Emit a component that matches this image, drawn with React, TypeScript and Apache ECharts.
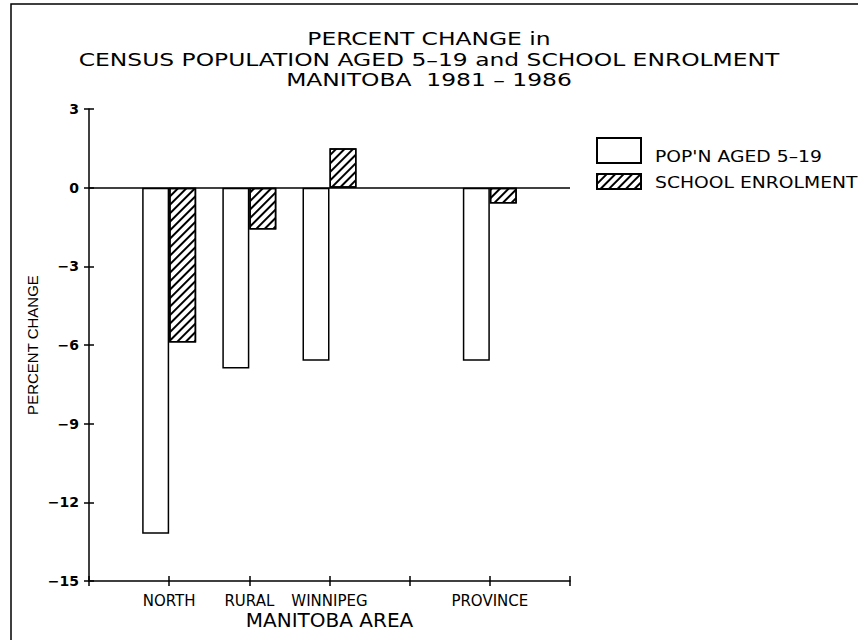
import React, { useEffect, useRef } from "react";
import * as echarts from "echarts";

const categories = ["", "NORTH", "RURAL", "WINNIPEG", "", "PROVINCE", ""];
const popAged519 = [null, -13.2, -6.9, -6.6, null, -6.6, null];
const schoolEnrolment = [null, -5.9, -1.6, 1.5, null, -0.6, null];
const yMin = -15;
const yMax = 3;
const yInterval = 3;
const seriesNames = ["POP'N AGED 5\u201319", "SCHOOL ENROLMENT"];
const titleLines = [
  "PERCENT CHANGE in",
  "CENSUS POPULATION AGED 5\u201319 and SCHOOL ENROLMENT",
  "MANITOBA  1981 \u2013 1986",
];
const xAxisName = "MANITOBA AREA";
const yAxisName = "PERCENT CHANGE";

const FONT = '"DejaVu Sans", sans-serif';

export default function App() {
  const ref = useRef<HTMLDivElement>(null);
  useEffect(() => {
    if (!ref.current) return;
    const chart = echarts.init(ref.current, null, { renderer: "svg" });
    const hatch = {
      symbol: "rect",
      symbolSize: 1,
      color: "#000",
      backgroundColor: "#fff",
      dashArrayX: [1, 0],
      dashArrayY: [1.5, 3.5],
      rotation: -Math.PI / 4,
    };
    const yLabel = (v: number) => String(v).replace("-", "\u2212");
    const legendTextY = [157, 183];
    chart.setOption({
      animation: false,
      backgroundColor: "#fff",
      grid: { left: 89, right: 288, top: 109, bottom: 59, containLabel: false },
      legend: [
        {
          data: [seriesNames[0]],
          left: 596,
          top: 137,
          padding: 0,
          itemWidth: 44,
          itemHeight: 25,
          icon: "rect",
          selectedMode: false,
          formatter: () => "",
        },
        {
          data: [seriesNames[1]],
          left: 596,
          top: 173,
          padding: 0,
          itemWidth: 44,
          itemHeight: 15,
          icon: "rect",
          selectedMode: false,
          formatter: () => "",
        },
      ],
      xAxis: [
        {
          type: "category",
          data: categories,
          boundaryGap: false,
          axisLine: { onZero: false, lineStyle: { color: "#000", width: 1.5 } },
          axisTick: { show: true, interval: 0, length: 5, lineStyle: { color: "#000", width: 1.5 } },
          axisLabel: { interval: 0, margin: 12, fontFamily: FONT, fontSize: 15, color: "#000" },
          splitLine: { show: false },
          name: xAxisName,
          nameLocation: "middle",
          nameGap: 29,
          nameMoveOverlap: false,
          nameTextStyle: { fontFamily: FONT, fontSize: 20, color: "#000" },
        },
        {
          type: "category",
          data: categories,
          boundaryGap: false,
          position: "bottom",
          axisLine: { show: false, onZero: false },
          axisTick: { show: true, inside: true, interval: 0, length: 5, lineStyle: { color: "#000", width: 1.5 } },
          axisLabel: { show: false },
          splitLine: { show: false },
        },
      ],
      yAxis: [
        {
          type: "value",
          position: "left",
          min: yMin,
          max: yMax,
          interval: yInterval,
          axisLine: { show: true, lineStyle: { color: "#000", width: 1.5 } },
          axisTick: { show: true, length: 5, lineStyle: { color: "#000", width: 1.5 } },
          axisLabel: { margin: 10, fontFamily: FONT, fontSize: 14, fontWeight: "bold", color: "#000", formatter: yLabel },
          splitLine: { show: false },
          name: yAxisName,
          nameLocation: "middle",
          nameGap: 49,
          nameMoveOverlap: false,
          nameRotate: 90,
          nameTextStyle: { fontFamily: '"Liberation Sans Narrow", "Liberation Sans", sans-serif', fontSize: 15, color: "#000" },
        },
        {
          type: "value",
          position: "left",
          min: yMin,
          max: yMax,
          interval: yInterval,
          axisLine: { show: false },
          axisTick: { show: true, inside: true, length: 5, lineStyle: { color: "#000", width: 1.5 } },
          axisLabel: { show: false },
          splitLine: { show: false },
        },
      ],
      series: [
        {
          name: seriesNames[0],
          type: "bar",
          data: popAged519,
          barWidth: 27,
          barGap: "0%",
          itemStyle: { color: "#fff", borderColor: "#000", borderWidth: 1.5 },
          markLine: {
            silent: true,
            symbol: ["none", "none"],
            label: { show: false },
            lineStyle: { color: "#000", width: 1.5, type: "solid" },
            data: [{ yAxis: 0 }],
          },
        },
        {
          name: seriesNames[1],
          type: "bar",
          data: schoolEnrolment,
          barWidth: 27,
          barGap: "0%",
          itemStyle: { color: "#fff", borderColor: "#000", borderWidth: 1.5, decal: hatch },
        },
      ],
      graphic: [
        {
          type: "rect",
          silent: true,
          shape: { x: 11, y: 4, width: 900, height: 700 },
          style: { fill: "none", stroke: "#000", lineWidth: 1.5 },
        },
        ...titleLines.map((t, i) => ({
          type: "text",
          x: 429,
          y: 39 + i * 20.5,
          scaleX: 1.3,
          silent: true,
          style: {
            text: t,
            fontFamily: FONT,
            fontSize: 18,
            fill: "#000",
            align: "center",
            verticalAlign: "middle",
          },
        })),
        ...seriesNames.map((t, i) => ({
          type: "text",
          x: 655,
          y: legendTextY[i],
          scaleX: 1.25,
          silent: true,
          style: {
            text: t,
            fontFamily: FONT,
            fontSize: 15,
            fill: "#000",
            align: "left",
            verticalAlign: "middle",
          },
        })),
      ],
    });
    return () => chart.dispose();
  }, []);
  return (
    <div
      ref={ref}
      style={{ position: "fixed", left: 0, top: 0, width: 858, height: 640, background: "#fff" }}
    />
  );
}
